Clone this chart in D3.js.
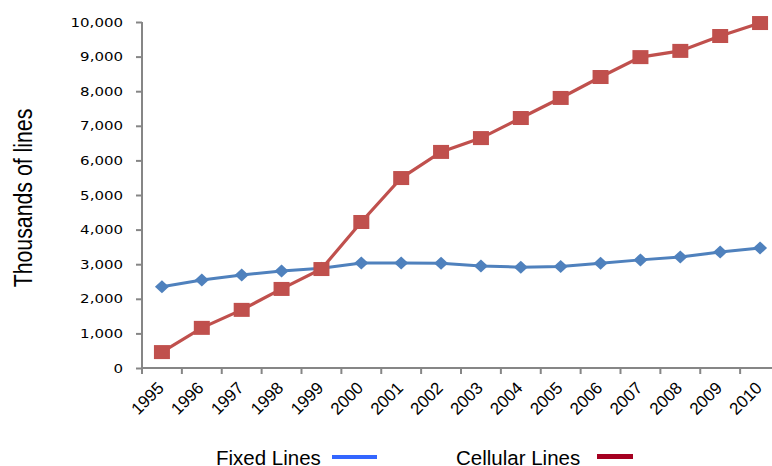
<!DOCTYPE html>
<html><head><meta charset="utf-8">
<script src="https://cdn.jsdelivr.net/npm/d3@7"></script>
<style>body{margin:0;background:#fff}svg{display:block}</style>
</head><body>
<svg id="c" width="772" height="466"></svg>
<script>
const years = ["1995","1996","1997","1998","1999","2000","2001","2002","2003","2004","2005","2006","2007","2008","2009","2010"];
const fixedLines = [2350,2545,2690,2805,2880,3035,3035,3030,2945,2915,2935,3030,3125,3210,3350,3470];
const cellularLines = [460,1160,1680,2285,2860,4220,5490,6245,6645,7225,7805,8410,8985,9165,9595,9970];
const yTicks = [0,1000,2000,3000,4000,5000,6000,7000,8000,9000,10000];

const svg = d3.select("#c");
const x = d3.scaleBand().domain(years).range([142, 780]);
const y = d3.scaleLinear().domain([0, 10000]).range([368, 22]);
const cx = d => x(d) + x.bandwidth() / 2;

// y axis
const ya = svg.append("g").attr("transform", "translate(142,0)")
  .call(d3.axisLeft(y).tickValues(yTicks).tickSize(6).tickPadding(13).tickFormat(d3.format(",")));
ya.select(".domain").attr("stroke", "#868686").attr("stroke-width", 2).attr("d", "M0,368V22");
ya.selectAll(".tick line").attr("stroke", "#868686").attr("stroke-width", 2);
ya.selectAll(".tick text").attr("font-family", "DejaVu Sans, Verdana, sans-serif").attr("font-size", 12.5).attr("fill", "#000")
  .attr("x", -19 / 1.2).attr("transform", "scale(1.2,1)");

// x axis
const xa = svg.append("g").attr("transform", "translate(0,368)")
  .call(d3.axisBottom(x).tickSize(0).tickFormat(d => d));
xa.select(".domain").attr("stroke", "#868686").attr("stroke-width", 2).attr("d", "M142,0H772");
xa.selectAll(".tick text")
  .attr("font-family", "Liberation Sans, Arial, sans-serif").attr("font-size", 17).attr("fill", "#000")
  .attr("text-anchor", "end").attr("dy", 0).attr("y", 0)
  .attr("transform", "translate(3,21) rotate(-45)");
// category boundary ticks
xa.selectAll(".bt").data(years).enter().append("line")
  .attr("x1", d => x(d)).attr("x2", d => x(d)).attr("y1", 0).attr("y2", 6)
  .attr("stroke", "#868686").attr("stroke-width", 2);

// y title
svg.append("text").attr("transform", "translate(32,198) rotate(-90) scale(1,1.25)")
  .attr("text-anchor", "middle").attr("font-family", "Liberation Sans, Arial, sans-serif")
  .attr("font-size", 21.3).text("Thousands of lines");

const line = d3.line().x((d, i) => cx(years[i])).y(d => y(d));

svg.append("path").datum(fixedLines).attr("d", line).attr("fill", "none")
  .attr("stroke", "#4f81bd").attr("stroke-width", 3);
svg.append("path").datum(cellularLines).attr("d", line).attr("fill", "none")
  .attr("stroke", "#c0504d").attr("stroke-width", 3.2);

svg.selectAll(".fm").data(fixedLines).enter().append("path")
  .attr("d", "M0,-6.5L7,0L0,6.5L-7,0Z")
  .attr("transform", (d, i) => `translate(${cx(years[i])},${y(d)})`)
  .attr("fill", "#4f81bd");
svg.selectAll(".cm").data(cellularLines).enter().append("rect")
  .attr("x", (d, i) => cx(years[i]) - 8).attr("y", d => y(d) - 7)
  .attr("width", 16).attr("height", 14).attr("fill", "#c0504d");

// legend
const lg = svg.append("g").attr("font-family", "Liberation Sans, Arial, sans-serif").attr("font-size", 20.5);
lg.append("text").attr("x", 216).attr("y", 465).text("Fixed Lines");
lg.append("rect").attr("x", 332).attr("y", 455).attr("width", 45).attr("height", 4).attr("fill", "#3366ff");
lg.append("text").attr("x", 456).attr("y", 465).text("Cellular Lines");
lg.append("rect").attr("x", 597).attr("y", 454).attr("width", 36).attr("height", 5).attr("fill", "#a50021");
</script>
</body></html>
